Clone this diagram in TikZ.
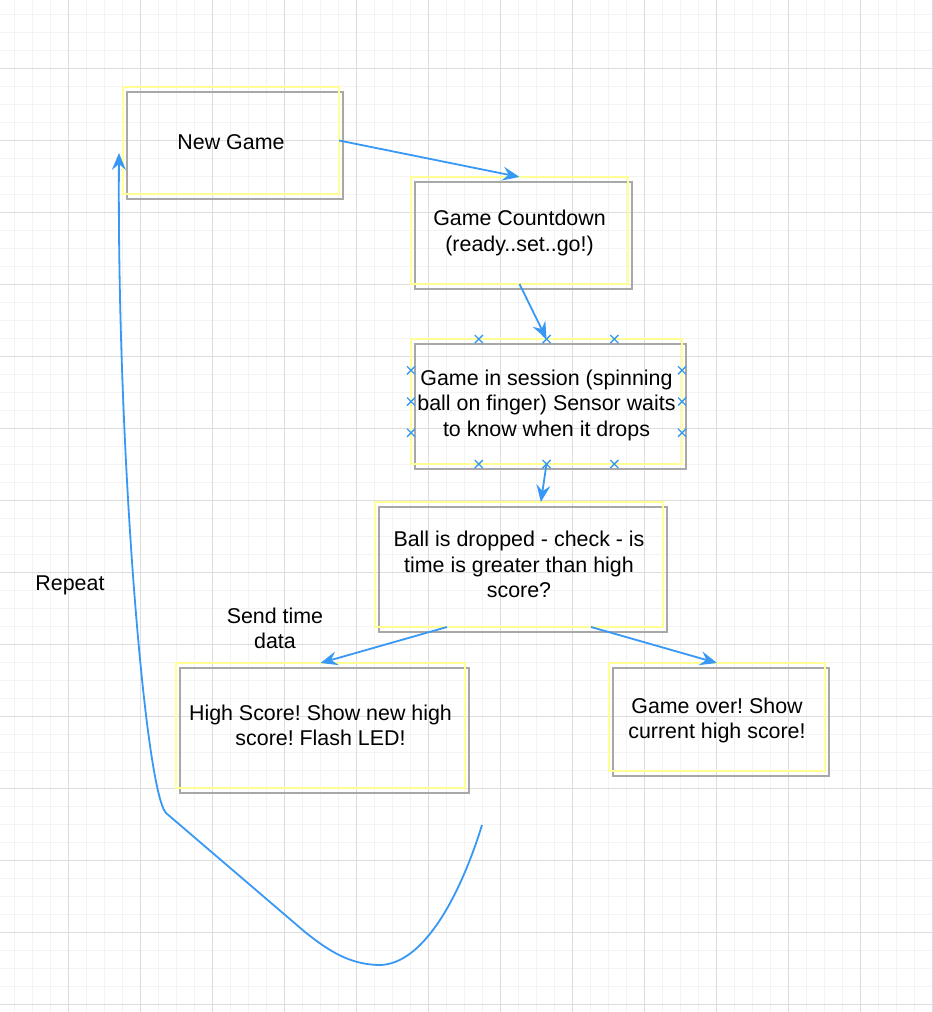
\documentclass[tikz,border=0pt]{standalone}
\usepackage{fontspec}
\setmainfont{Liberation Sans}
\usepackage{xcolor}
\usepackage{tikz}
\usetikzlibrary{calc}
\usetikzlibrary{arrows.meta}
\frenchspacing

\definecolor{flowblue}{RGB}{56,152,246}
\definecolor{boxyellow}{RGB}{255,255,150}
\definecolor{boxgray}{RGB}{168,168,168}
\definecolor{gridminor}{RGB}{243,243,243}
\definecolor{gridmajor}{RGB}{221,221,221}

\tikzset{
	stepbox/.style={rectangle, draw=boxyellow, line width=2pt, inner sep=0pt, outer sep=0pt, align=center,
		font=\fontsize{21.4pt}{25.3pt}\selectfont,
		preaction={draw=boxgray, line width=2pt, transform canvas={shift={(3.5pt,-4.5pt)}}}},
	flow/.style={flowblue, line width=1.8pt, -{Stealth[length=17pt,width=14pt,inset=6pt]}},
	xmark/.style={flowblue, line width=1.4pt},
	note/.style={align=center, font=\fontsize{21.4pt}{25.3pt}\selectfont},
}

\begin{document}
\begin{tikzpicture}[x=1pt,y=-1pt]
		\fill[white] (0,0) rectangle (932,1012);
		\useasboundingbox (0,0) rectangle (932,1012);
		\foreach \x in {14,32,...,932} \draw[gridminor,line width=1pt] (\x,0) -- (\x,1012);
		\foreach \y in {14,32,...,1012} \draw[gridminor,line width=1pt] (0,\y) -- (932,\y);
		\foreach \x in {68,140,...,932} \draw[gridmajor,line width=1pt] (\x,0) -- (\x,1012);
		\foreach \y in {68,140,...,1012} \draw[gridmajor,line width=1pt] (0,\y) -- (932,\y);

		\node[stepbox, text height=18.6pt, minimum width=216pt, minimum height=107pt] (newgame) at (231,140.5) {New Game};
		\node[stepbox, text height=45.6pt, minimum width=217pt, minimum height=107pt] (countdown) at (519.5,230.5) {Game Countdown\\(ready..set..go!)};
		\node[stepbox, text height=73.6pt, minimum width=271pt, minimum height=125pt] (session) at (546.5,401.5) {Game in session (spinning\\ball on finger) Sensor waits\\to know when it drops};
		\node[stepbox, minimum width=288pt, minimum height=125pt] (ball) at (519,564.5) {Ball is dropped - check - is\\time is greater than high\\score?};
		\node[stepbox, minimum width=289pt, minimum height=125pt] (highscore) at (320.5,725.5) {High Score! Show new high\\score! Flash LED!};
		\node[stepbox, text height=47.6pt, minimum width=216pt, minimum height=108pt] (gameover) at (717,717) {Game over! Show\\current high score!};
		\node[note] (repeat) at (70,585) {Repeat};
		\node[note] (sendtime) at (275,628) {Send time\\data};

		\foreach \f in {0.25,0.5,0.75} {
			\draw[xmark] ($(session.north west)!\f!(session.north east)$) ++(-4,-4) -- ++(8,8) ++(-8,0) -- ++(8,-8);
			\draw[xmark] ($(session.south west)!\f!(session.south east)$) ++(-4,-4) -- ++(8,8) ++(-8,0) -- ++(8,-8);
			\draw[xmark] ($(session.north west)!\f!(session.south west)$) ++(-4,-4) -- ++(8,8) ++(-8,0) -- ++(8,-8);
			\draw[xmark] ($(session.north east)!\f!(session.south east)$) ++(-4,-4) -- ++(8,8) ++(-8,0) -- ++(8,-8);
		}

		\coordinate (balltop) at ($(ball.north west)!0.576!(ball.north east)$);
		\coordinate (loopstart) at (482,825);
		\coordinate (loopend) at ([xshift=-4pt,yshift=-12.5pt]newgame.west);

		\draw[flow] (newgame.east) -- (countdown.north);
		\draw[flow] (countdown.south) -- (session.north);
		\draw[flow] (session.south) -- (balltop);
		\draw[flow] ($(ball.south west)!0.25!(ball.south east)$) -- (highscore.north);
		\draw[flow] ($(ball.south west)!0.75!(ball.south east)$) -- (gameover.north);
		\draw[flow] (loopstart) .. controls (462,890) and (425,966) .. (378,965) .. controls (350,964) and (330,952) .. (305,932) -- (166,813) .. controls (145,790) and (117,450) .. (loopend);
	\end{tikzpicture}
\end{document}
